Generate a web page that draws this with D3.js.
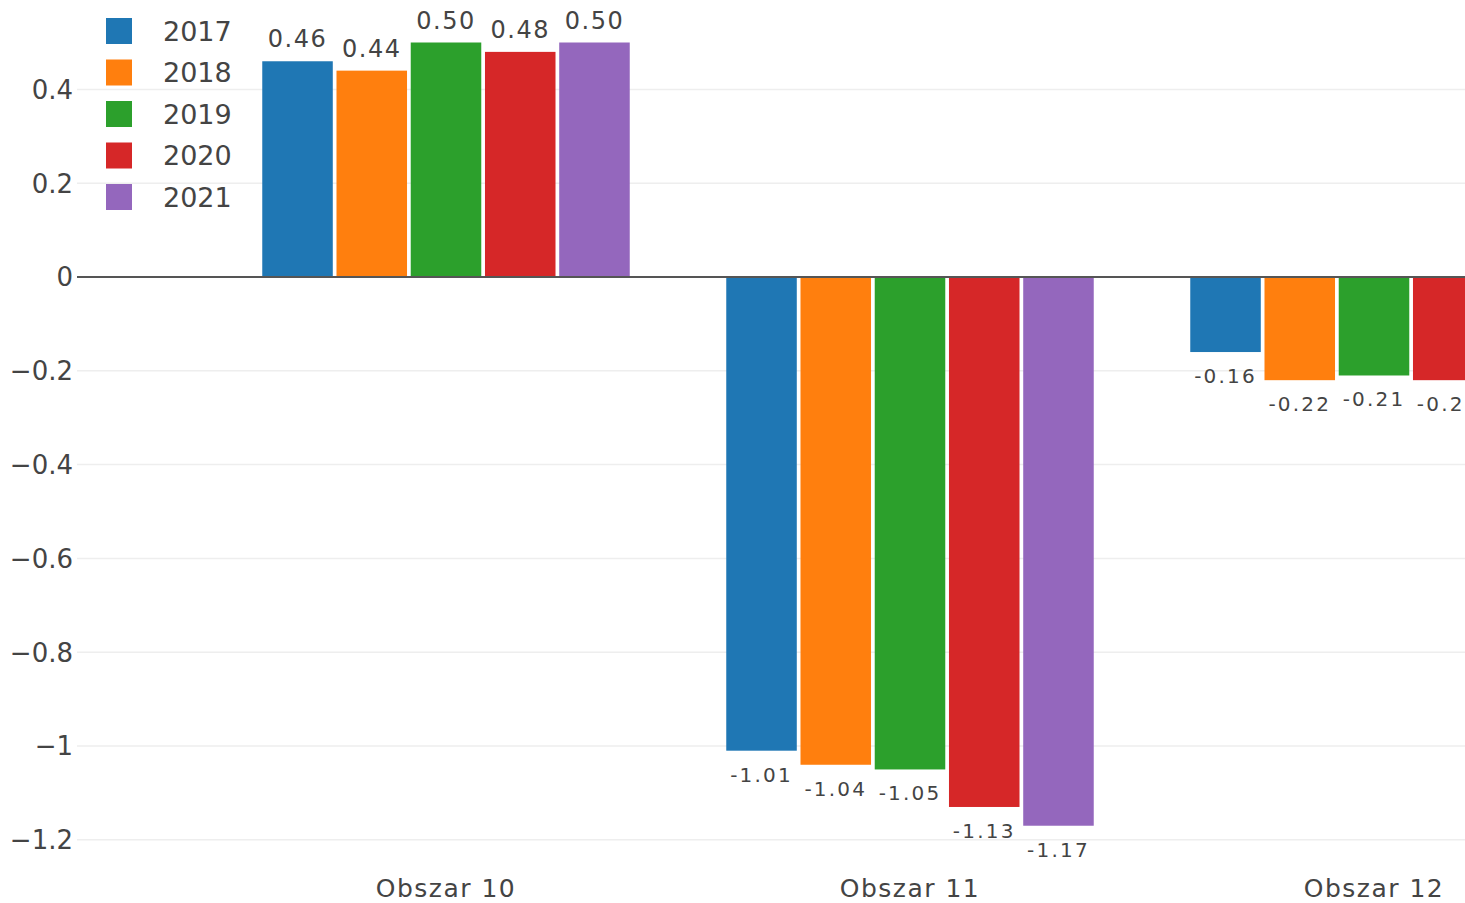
<!DOCTYPE html>
<html>
<head>
<meta charset="utf-8">
<script src="https://d3js.org/d3.v7.min.js"></script>
<style>
  html, body { margin: 0; padding: 0; background: #fff; }
  svg { display: block; font-family: "DejaVu Sans", Verdana, sans-serif; }
</style>
</head>
<body>
<svg id="chart" width="1465" height="903"></svg>
<script>
// ---- data ----
const categories = ["Obszar 10", "Obszar 11", "Obszar 12"];
const years = ["2017", "2018", "2019", "2020", "2021"];
const values2017 = [0.46, -1.01, -0.16];
const values2018 = [0.44, -1.04, -0.22];
const values2019 = [0.50, -1.05, -0.21];
const values2020 = [0.48, -1.13, -0.22];
const values2021 = [0.50, -1.17, -0.24]; // last value lies outside the visible area (estimate)
const yTicks = [0.4, 0.2, 0, -0.2, -0.4, -0.6, -0.8, -1, -1.2];
const colors = ["#1f77b4", "#ff7f0e", "#2ca02c", "#d62728", "#9467bd"];

const seriesValues = [values2017, values2018, values2019, values2020, values2021];
const series = years.map((yr, i) => ({ year: yr, color: colors[i], values: seriesValues[i] }));

// ---- layout ----
const W = 1465, H = 903;
const plotLeft = 77;
const svg = d3.select("#chart");

const x0 = d3.scaleBand().domain(categories).range([214, 214 + 3 * 464]).padding(0);
const x1 = d3.scaleBand().domain(years)
  .range([x0.bandwidth() * 0.1, x0.bandwidth() * 0.9])
  .paddingInner(0.05).paddingOuter(0.025);
const y = d3.scaleLinear().domain([-1.25, 0.58]).range([277 + 1.25 * 469, 277 - 0.58 * 469]);

svg.append("defs").append("clipPath").attr("id", "clip")
  .append("rect").attr("x", plotLeft).attr("y", 0).attr("width", W - plotLeft).attr("height", H);

// gridlines
const grid = svg.append("g");
grid.selectAll("line").data(yTicks.filter(d => d !== 0)).join("line")
  .attr("x1", plotLeft).attr("x2", W)
  .attr("y1", d => y(d)).attr("y2", d => y(d))
  .attr("stroke", "#eeeeee").attr("stroke-width", 1.5);

// y tick labels
const fmtTick = d => (d < 0 ? "\u2212" : "") + String(Math.abs(d));
svg.append("g").selectAll("text").data(yTicks).join("text")
  .attr("x", 73).attr("y", d => y(d)).attr("dy", "0.36em")
  .attr("text-anchor", "end").attr("font-size", 26).attr("fill", "#444")
  .text(fmtTick);

// bars
const plot = svg.append("g").attr("clip-path", "url(#clip)");
const groups = plot.selectAll("g.series").data(series).join("g").attr("class", "series");
groups.selectAll("rect").data(s => s.values.map((v, i) => ({ v, cat: categories[i], year: s.year, color: s.color })))
  .join("rect")
  .attr("x", d => x0(d.cat) + x1(d.year))
  .attr("width", x1.bandwidth())
  .attr("y", d => y(Math.max(0, d.v)))
  .attr("height", d => Math.abs(y(d.v) - y(0)))
  .attr("fill", d => d.color);

// zero line
svg.append("line").attr("x1", plotLeft).attr("x2", W)
  .attr("y1", y(0)).attr("y2", y(0))
  .attr("stroke", "#555").attr("stroke-width", 2);

// value labels
groups.selectAll("text").data(s => s.values.map((v, i) => ({ v, cat: categories[i], year: s.year })))
  .join("text")
  .attr("x", d => x0(d.cat) + x1(d.year) + x1.bandwidth() / 2)
  .attr("y", d => d.v >= 0 ? y(d.v) - 14 : y(d.v) + 31)
  .attr("text-anchor", "middle")
  .attr("font-size", d => d.v >= 0 ? 24 : 20)
  .attr("letter-spacing", d => d.v >= 0 ? 1.5 : 2.2)
  .attr("fill", "#444")
  .text(d => d.v.toFixed(2));

// x labels
svg.append("g").selectAll("text").data(categories).join("text")
  .attr("x", d => x0(d) + x0.bandwidth() / 2).attr("y", 897)
  .attr("text-anchor", "middle").attr("font-size", 25).attr("letter-spacing", 1.5)
  .attr("fill", "#444")
  .text(d => d);

// legend
const legend = svg.append("g").selectAll("g").data(series).join("g")
  .attr("transform", (d, i) => `translate(106, ${18 + i * 41.5})`);
legend.append("rect").attr("width", 26).attr("height", 26).attr("fill", d => d.color);
legend.append("text").attr("x", 57).attr("y", 13).attr("dy", "0.36em")
  .attr("font-size", 27).attr("fill", "#444").text(d => d.year);
</script>
</body>
</html>
